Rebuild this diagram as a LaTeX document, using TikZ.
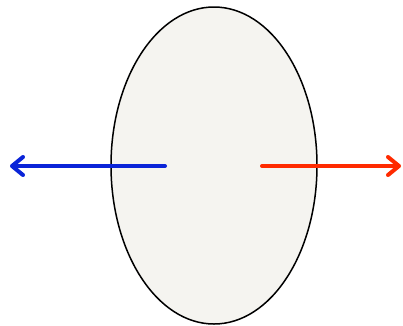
\documentclass[tikz,border=0pt]{standalone}
\usetikzlibrary{arrows.meta,shapes.geometric}
\definecolor{eggfill}{HTML}{F5F4F0}
\definecolor{arrblue}{HTML}{0A24D8}
\definecolor{arrred}{HTML}{FF2A00}
\begin{document}
\begin{tikzpicture}[x=1pt,y=-1pt,
  arrowline/.style={line width=4pt,line cap=round,-{Straight Barb[length=11pt,width=18pt,line width=4pt,round]}}]
\useasboundingbox (0,0) rectangle (403,325);
\node[draw,line width=1.5pt,fill=eggfill,ellipse,minimum width=206pt,minimum height=317pt,inner sep=0pt] (egg) at (214,165.5) {};
\coordinate (bstart) at (165,166);
\coordinate (bend) at (10,166);
\coordinate (rstart) at (262,166);
\coordinate (rend) at (401,166);
\draw[arrowline,arrblue] (bstart) -- (bend);
\draw[arrowline,arrred] (rstart) -- (rend);
\end{tikzpicture}
\end{document}
